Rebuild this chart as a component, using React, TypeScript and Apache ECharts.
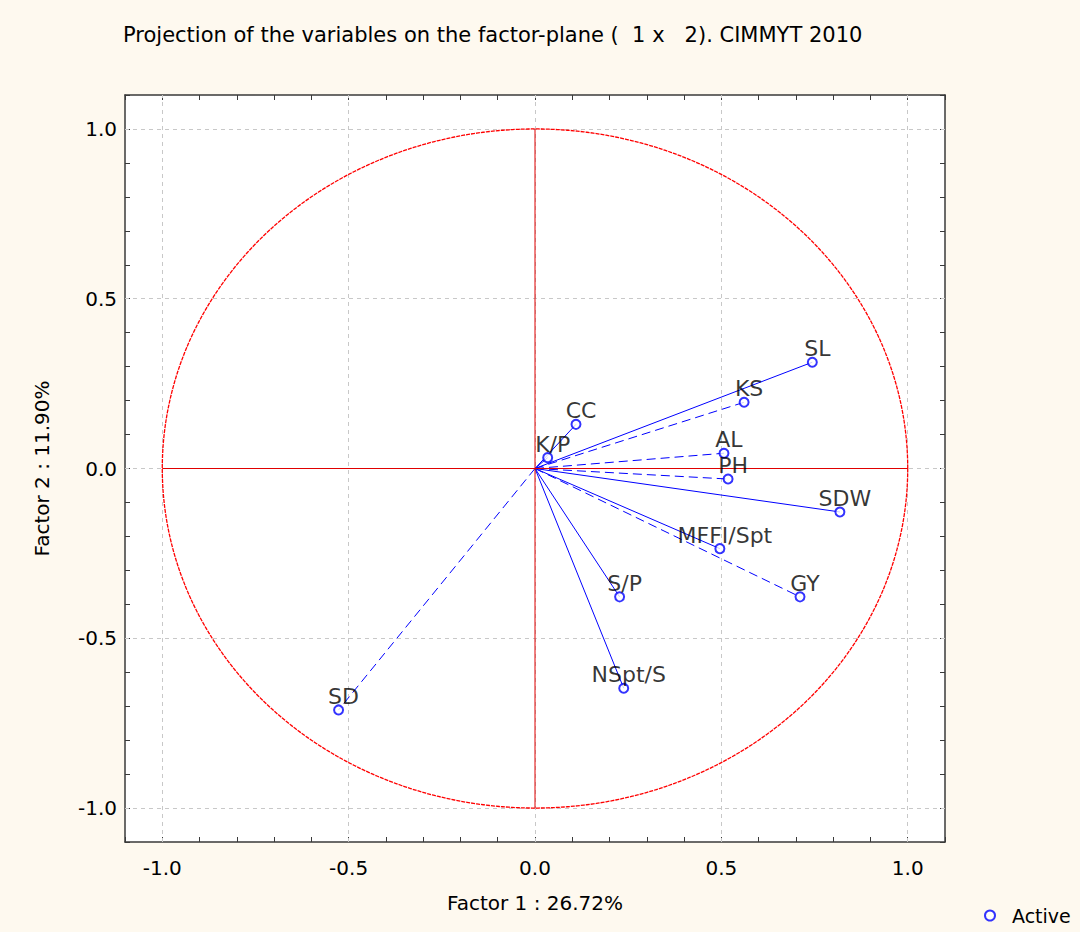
import React, { useEffect, useRef } from "react";
import * as echarts from "echarts";

const variables = ["SL", "KS", "CC", "K/P", "AL", "PH", "SDW", "MFFI/Spt", "GY", "S/P", "NSpt/S", "SD"];
const factor1 = [0.744, 0.561, 0.110, 0.034, 0.507, 0.518, 0.818, 0.496, 0.711, 0.227, 0.238, -0.527];
const factor2 = [0.313, 0.195, 0.130, 0.032, 0.045, -0.031, -0.128, -0.236, -0.378, -0.378, -0.647, -0.711];
const lineDash = ["solid", "dashed", "solid", "solid", "dashed", "dashed", "solid", "solid", "dashed", "solid", "solid", "dashed"];
const gridValues = [-1, -0.5, 0, 0.5, 1];

const FONT = "DejaVu Sans, Liberation Sans, sans-serif";

export default function App() {
  const ref = useRef<HTMLDivElement>(null);
  useEffect(() => {
    const chart = echarts.init(ref.current!, null, { renderer: "svg" });
    const fmt = (v: number) => {
      const r = Math.round(v * 10);
      if (r % 5 !== 0) return "";
      if (r === 0) return "0.0";
      return (r / 10).toFixed(1);
    };
    const baseAxis = {
      min: -1.1,
      max: 1.1,
      interval: 0.1,
      axisLine: { show: true, onZero: false, lineStyle: { color: "#3a3a3a", width: 1.5 } },
      axisTick: { show: true, inside: true, length: 5, lineStyle: { color: "#3a3a3a", width: 1 } },
      splitLine: { show: false },
    };
    const lineSeries = variables.map((v, i) => ({
      type: "line",
      name: v + "_line",
      data: [[0, 0], [factor1[i], factor2[i]]],
      symbol: "none",
      silent: true,
      lineStyle: { color: "#0000FF", width: 1, type: lineDash[i] === "dashed" ? [9, 5] : "solid" },
      z: 3,
    }));
    chart.setOption({
      animation: false,
      backgroundColor: "#FEF9EF",
      textStyle: { fontFamily: FONT },
      title: {
        text: "Projection of the variables on the factor-plane (  1 x   2). CIMMYT 2010",
        left: 118,
        top: 19,
        textStyle: { fontFamily: FONT, fontSize: 21, fontWeight: "normal", color: "#000" },
      },
      legend: {
        data: [{ name: "Active", icon: "emptyCircle" }],
        left: 980,
        top: 902,
        padding: 4,
        itemWidth: 10,
        itemHeight: 10,
        textStyle: { fontFamily: FONT, fontSize: 19, color: "#000", padding: [0, 0, 0, 12] },
      },
      grid: { left: 125, right: 135, top: 95, bottom: 90, show: true, backgroundColor: "#FFFFFF", borderWidth: 0 },
      xAxis: [
        {
          ...baseAxis,
          type: "value",
          position: "bottom",
          name: "Factor 1 : 26.72%",
          nameLocation: "middle",
          nameGap: 51,
          nameTextStyle: { fontFamily: FONT, fontSize: 20, color: "#000" },
          axisLabel: { formatter: fmt, margin: 16, fontSize: 20, color: "#000", fontFamily: FONT, showMinLabel: true, showMaxLabel: true },
        },
        { ...baseAxis, type: "value", position: "top", axisLabel: { show: false } },
      ],
      yAxis: [
        {
          ...baseAxis,
          type: "value",
          position: "left",
          name: "Factor 2 : 11.90%",
          nameLocation: "middle",
          nameGap: 73,
          nameTextStyle: { fontFamily: FONT, fontSize: 20, color: "#000" },
          axisLabel: { formatter: fmt, margin: 8, fontSize: 20, color: "#000", fontFamily: FONT },
        },
        { ...baseAxis, type: "value", position: "right", axisLabel: { show: false } },
      ],
      series: [
        {
          type: "custom",
          name: "circle",
          silent: true,
          data: [[0, 0, 1]],
          renderItem: (params: any, api: any) => {
            const cx = api.value(0);
            const cy = api.value(1);
            const r = api.value(2);
            const pts: number[][] = [];
            for (let k = 0; k <= 720; k++) {
              const a = (k / 720) * Math.PI * 2;
              pts.push(api.coord([cx + r * Math.cos(a), cy + r * Math.sin(a)]));
            }
            return { type: "polyline", shape: { points: pts }, style: { stroke: "#FF0000", fill: "none", lineWidth: 1.3, lineDash: [4, 1] } };
          },
          z: 2,
        },
        {
          type: "line",
          name: "grid",
          data: [],
          silent: true,
          z: 1,
          markLine: {
            silent: true,
            symbol: "none",
            z: 1,
            label: { show: false },
            lineStyle: { color: "#C8C8C8", width: 1, type: [4, 4] },
            data: [
              ...gridValues.map((g) => ({ xAxis: g })),
              ...gridValues.map((g) => ({ yAxis: g })),
            ],
          },
        },
        {
          type: "line",
          name: "hAxisLine",
          data: [[-1, 0], [1, 0]],
          symbol: "none",
          silent: true,
          lineStyle: { color: "#E00000", width: 1, type: "solid" },
          z: 4,
        },
        {
          type: "line",
          name: "vAxisLine",
          data: [[0, -1], [0, 1]],
          symbol: "none",
          silent: true,
          lineStyle: { color: "#E00000", width: 1, type: "solid" },
          z: 4,
        },
        ...lineSeries,
        {
          type: "scatter",
          name: "Active",
          data: variables.map((v, i) => ({ name: v, value: [factor1[i], factor2[i]] })),
          symbol: "emptyCircle",
          symbolSize: 9,
          itemStyle: { color: "#0000FF", borderWidth: 1 },
          label: {
            show: true,
            position: "top",
            distance: 0,
            offset: [5, 3],
            formatter: "{b}",
            fontFamily: FONT,
            fontSize: 22,
            color: "#000",
          },
          z: 5,
        },
      ],
    });
    return () => chart.dispose();
  }, []);
  return <div ref={ref} style={{ position: "fixed", left: 0, top: 0, width: 1080, height: 932 }} />;
}
